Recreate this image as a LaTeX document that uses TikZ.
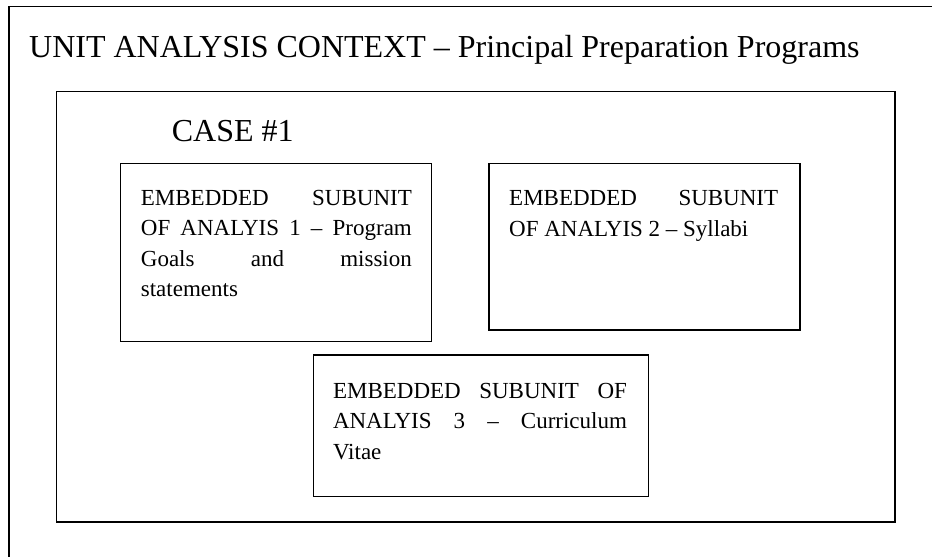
\documentclass[tikz,border=0pt]{standalone}
\usepackage{fontspec}
\setmainfont{Liberation Serif}

\begin{document}
\begin{tikzpicture}[x=1pt, y=-1pt,
  frame/.style={draw, line width=1.5pt, inner sep=0pt, outer sep=0pt, anchor=north west},
  headtext/.style={inner sep=0pt, anchor=base west, font=\fontsize{32}{38}\selectfont},
  boxtext/.style={inner sep=0pt, anchor=base west, align=justify, font=\fontsize{23}{30.5}\selectfont}]
\useasboundingbox (0,0) rectangle (932,557);
% Draw outer frame (runs off the page at right and bottom)
\coordinate (tr) at (932,6.5);
\coordinate (tl) at (9,6.5);
\coordinate (bl) at (9,557);
\draw[line width=1.5pt] (tr) -- (tl) -- (bl);
\node[headtext] (title) at (29,57.5) {UNIT ANALYSIS CONTEXT -- Principal Preparation Programs};
% Draw case box
\node[frame, minimum width=838.5pt, minimum height=430.5pt] (case) at (56.5,91.5) {};
\node[headtext] (casename) at (171.7,141.7) {CASE \#1};
% Draw embedded subunits
\node[frame, minimum width=311pt, minimum height=178.4pt] (sub1) at (120.7,163.3) {};
\node[frame, minimum width=311pt, minimum height=166.7pt] (sub2) at (489,163.3) {};
\node[frame, minimum width=335pt, minimum height=141.7pt] (sub3) at (313.3,355) {};
\node[boxtext, text width=271pt] (sub1 text) at ([shift={(20,42)}]sub1.north west)
  {EMBEDDED SUBUNIT\linebreak OF ANALYIS 1 -- Program\linebreak Goals and mission\linebreak statements};
\node[boxtext, text width=269pt] (sub2 text) at ([shift={(20,42.5)}]sub2.north west)
  {EMBEDDED SUBUNIT\linebreak OF ANALYIS 2 -- Syllabi};
\node[boxtext, text width=294pt] (sub3 text) at ([shift={(19.5,43)}]sub3.north west)
  {EMBEDDED SUBUNIT OF\linebreak ANALYIS 3 -- Curriculum\linebreak Vitae};
\end{tikzpicture}
\end{document}
